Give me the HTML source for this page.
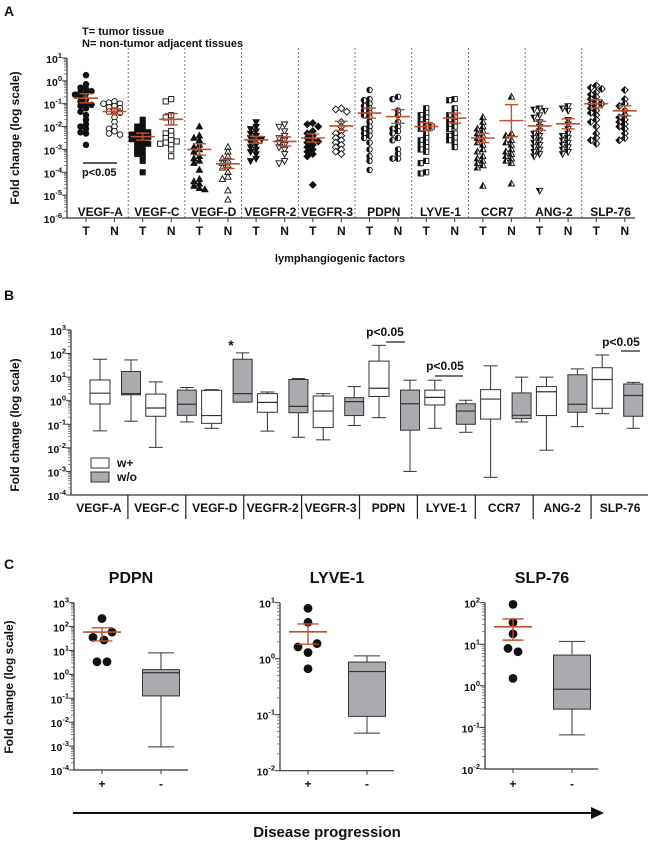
<!DOCTYPE html>
<html><head><meta charset="utf-8"><style>
body{margin:0;background:#fff}
svg{display:block;font-family:"Liberation Sans",Arial,sans-serif}
</style></head><body>
<svg id="fig" width="650" height="843" viewBox="0 0 650 843" xmlns="http://www.w3.org/2000/svg">
<defs><linearGradient id="half" x1="0" x2="1" y1="0" y2="0"><stop offset="0.5" stop-color="#111"/><stop offset="0.5" stop-color="#fff"/></linearGradient></defs>
</svg>
<script>
// ---------- Panel A data (log10 fold change) ----------
const aGroups=['VEGF-A','VEGF-C','VEGF-D','VEGFR-2','VEGFR-3','PDPN','LYVE-1','CCR7','ANG-2','SLP-76'];
const aShapes=['circle','square','up','down','diamond','circle','square','up','down','diamond'];
const vegfA_T=[0.25,-0.15,-0.3,-0.35,-0.45,-0.5,-0.55,-0.6,-0.7,-0.8,-0.9,-1.0,-1.05,-1.1,-1.2,-1.35,-1.5,-1.7,-1.9,-2.0,-2.1,-2.25,-2.3,-2.8];
const vegfA_N=[-0.9,-0.95,-1.0,-1.0,-1.1,-1.15,-1.2,-1.3,-1.35,-1.4,-1.6,-1.8,-2.0,-2.1,-2.2,-2.3,-2.35];
const vegfC_T=[-1.7,-1.9,-2.0,-2.1,-2.2,-2.25,-2.3,-2.35,-2.4,-2.45,-2.5,-2.55,-2.6,-2.7,-2.75,-2.8,-2.9,-3.0,-3.1,-3.2,-3.3,-3.5,-4.0];
const vegfC_N=[-0.8,-0.9,-1.5,-1.6,-1.8,-2.2,-2.3,-2.4,-2.5,-2.6,-2.65,-2.7,-2.75,-2.8,-3.0,-3.3];
const vegfD_T=[-2.0,-2.4,-2.5,-2.6,-2.8,-2.9,-3.0,-3.1,-3.3,-3.4,-3.5,-3.6,-3.9,-4.3,-4.4,-4.5,-4.6,-4.7,-4.75];
const vegfD_N=[-2.9,-3.1,-3.3,-3.4,-3.5,-3.6,-3.7,-3.8,-4.0,-4.2,-4.3,-4.8,-5.2];
const vegfr2_T=[-1.8,-2.0,-2.1,-2.2,-2.3,-2.4,-2.5,-2.55,-2.6,-2.7,-2.8,-2.9,-3.0,-3.1,-3.2,-3.4,-3.5];
const vegfr2_N=[-1.9,-2.0,-2.2,-2.4,-2.5,-2.6,-2.7,-2.8,-2.9,-3.0,-3.2,-3.5,-3.6];
const vegfr3_T=[-1.85,-1.9,-2.0,-2.2,-2.3,-2.4,-2.5,-2.6,-2.65,-2.7,-2.8,-2.9,-3.0,-3.1,-3.2,-3.3,-4.55];
const vegfr3_N=[-1.2,-1.25,-1.35,-1.8,-2.0,-2.2,-2.3,-2.4,-2.5,-2.6,-2.7,-2.8,-2.9,-3.0,-3.1,-3.2];
const pdpn_T=[-0.4,-0.8,-0.85,-1.0,-1.1,-1.2,-1.3,-1.4,-1.5,-1.6,-1.8,-2.0,-2.1,-2.2,-2.3,-2.4,-2.5,-2.7,-3.0,-3.3,-3.5,-3.9];
const pdpn_N=[-0.7,-0.8,-1.3,-1.5,-1.8,-2.0,-2.1,-2.2,-2.3,-2.5,-2.6,-3.0,-3.2,-3.4,-3.4];
const lyve_T=[-1.2,-1.4,-1.5,-1.6,-1.7,-1.8,-1.9,-2.0,-2.0,-2.1,-2.3,-2.5,-2.6,-2.7,-2.8,-2.9,-3.0,-3.1,-3.5,-3.6,-4.0,-4.05];
const lyve_N=[-0.8,-0.85,-1.2,-1.4,-1.5,-1.6,-1.7,-1.8,-1.9,-2.0,-2.1,-2.3,-2.4,-2.5,-2.6,-2.7,-2.9];
const ccr7_T=[-1.6,-1.8,-2.0,-2.1,-2.2,-2.3,-2.4,-2.5,-2.6,-2.7,-2.8,-3.0,-3.1,-3.3,-3.4,-3.5,-3.6,-3.7,-3.8,-4.6];
const ccr7_N=[-0.7,-2.3,-2.4,-2.6,-2.7,-2.8,-3.0,-3.1,-3.2,-3.3,-3.4,-3.5,-3.6,-4.5];
const ang2_T=[-1.2,-1.25,-1.3,-1.5,-1.6,-1.8,-2.0,-2.2,-2.3,-2.4,-2.5,-2.6,-2.7,-2.8,-2.9,-3.0,-3.1,-3.2,-3.3,-4.8];
const ang2_N=[-1.1,-1.2,-1.3,-1.7,-1.9,-2.1,-2.3,-2.4,-2.5,-2.6,-2.7,-2.8,-2.9,-3.0,-3.1,-3.2];
const slp_T=[-0.2,-0.3,-0.35,-0.5,-0.6,-0.7,-0.8,-0.9,-1.0,-1.0,-1.1,-1.2,-1.3,-1.4,-1.5,-1.7,-1.8,-2.0,-2.3,-2.5,-2.6,-2.75];
const slp_N=[-0.4,-0.8,-1.0,-1.1,-1.3,-1.5,-1.6,-1.7,-1.8,-1.9,-2.0,-2.1,-2.3,-2.5,-2.6];
const aMeanT=[-0.76,-2.44,-3.0,-2.58,-2.5,-1.41,-2.0,-2.5,-1.97,-1.0];
const aMeanN=[-1.34,-1.68,-3.63,-2.65,-1.97,-1.56,-1.63,-1.74,-1.88,-1.31];
const aSemT=[0.2,0.15,0.25,0.15,0.18,0.22,0.18,0.2,0.2,0.18];
const aSemN=[0.12,0.25,0.2,0.2,0.2,0.3,0.22,0.7,0.22,0.22];
const aTicks=[1,0,-1,-2,-3,-4,-5,-6];

// ---------- Panel B data (box: lowWhisker,q1,median,q3,highWhisker) ----------
const bGroups=['VEGF-A','VEGF-C','VEGF-D','VEGFR-2','VEGFR-3','PDPN','LYVE-1','CCR7','ANG-2','SLP-76'];
const bWhite=[[-1.28,-0.14,0.32,0.88,1.76],[-1.98,-0.66,-0.31,0.28,0.8],[-1.17,-0.96,-0.63,0.44,0.47],[-1.29,-0.49,-0.07,0.3,0.37],[-1.66,-1.14,-0.44,0.2,0.3],[-0.72,0.18,0.53,1.68,2.35],[-1.17,-0.18,0.14,0.45,0.87],[-3.25,-0.78,0.07,0.47,1.48],[-2.1,-0.63,0.38,0.6,1.0],[-0.55,-0.32,0.9,1.4,1.94]];
const bGray=[[-0.87,0.25,0.3,1.24,1.73],[-0.9,-0.62,-0.15,0.45,0.56],[-0.06,-0.06,0.3,1.76,2.03],[-1.55,-0.51,-0.24,0.9,0.94],[-1.05,-0.63,-0.04,0.13,0.6],[-3.0,-1.25,-0.13,0.45,0.87],[-1.34,-1.0,-0.44,-0.13,0.02],[-0.9,-0.76,-0.62,0.33,1.0],[-1.1,-0.49,-0.15,1.1,1.35],[-1.17,-0.66,0.22,0.71,0.78]];
const bTicks=[3,2,1,0,-1,-2,-3,-4];

// ---------- Panel C data ----------
const cTitles=['PDPN','LYVE-1','SLP-76'];
const cPdpnDots=[2.34,1.55,1.44,1.77,0.53,0.53];
const cLyveDots=[0.9,0.65,0.21,0.27,0.11,-0.18];
const cSlpDots=[1.96,1.52,1.25,0.9,0.82,0.18];
const cMeans=[1.77,0.48,1.42];
const cSemHi=[1.95,0.62,1.61];
const cSemLo=[1.4,0.26,1.1];
const cBoxes=[[-3.03,-0.9,0.07,0.2,0.9],[-1.33,-1.03,-0.23,-0.06,0.05],[-1.18,-0.56,-0.08,0.74,1.07]];
const cRanges=[[3,-4],[1,-2],[2,-2]];

// ---------- helpers ----------
const NS='http://www.w3.org/2000/svg';
const svg=document.getElementById('fig');
function el(tag,attrs,parent){const e=document.createElementNS(NS,tag);for(const k in attrs)e.setAttribute(k,attrs[k]);(parent||svg).appendChild(e);return e;}
function txt(s,x,y,size,anchor,weight,parent){const t=el('text',{x:x,y:y,'font-size':size,'text-anchor':anchor||'start','font-weight':weight||'bold',fill:'#111'},parent);t.textContent=s;return t;}
function pow10(e,x,y,parent){const t=el('text',{x:x,y:y,'font-size':10.5,'text-anchor':'end','font-weight':'bold',fill:'#111'},parent);
 const a=el('tspan',{},t);a.textContent='10';const b=el('tspan',{dy:-5,'font-size':7.5},t);b.textContent=String(e);
 return t;}
const RED='#c0502e';
function logAxis(g,x,yTop,yBot,hi,lo,minor){
 el('line',{x1:x,y1:yTop,x2:x,y2:yBot,stroke:'#333','stroke-width':1.2},g);
 const dec=(yBot-yTop)/(hi-lo);
 for(let e=lo;e<=hi;e++){const y=yBot-(e-lo)*dec;el('line',{x1:x-5,y1:y,x2:x,y2:y,stroke:'#333','stroke-width':1},g);
  if(minor&&e<hi){for(let k=2;k<10;k++){const yy=y-Math.log10(k)*dec;el('line',{x1:x-3,y1:yy,x2:x,y2:yy,stroke:'#555','stroke-width':0.7},g);}}
  pow10(e,x-5,y+5,g);}
}
function marker(shape,cx,cy,fill,g){
 const s=2.6,a={fill:fill,stroke:'#111','stroke-width':0.9};let m;
 if(shape==='circle')m=el('circle',Object.assign({cx:cx,cy:cy,r:s+0.2},a),g);
 else if(shape==='square')m=el('rect',Object.assign({x:cx-s,y:cy-s,width:2*s,height:2*s},a),g);
 else if(shape==='up')m=el('polygon',Object.assign({points:`${cx},${cy-s-0.8} ${cx+s+0.5},${cy+s-0.3} ${cx-s-0.5},${cy+s-0.3}`},a),g);
 else if(shape==='down')m=el('polygon',Object.assign({points:`${cx},${cy+s+0.8} ${cx+s+0.5},${cy-s+0.3} ${cx-s-0.5},${cy-s+0.3}`},a),g);
 else m=el('polygon',Object.assign({points:`${cx},${cy-s-0.8} ${cx+s+0.8},${cy} ${cx},${cy+s+0.8} ${cx-s-0.8},${cy}`},a),g);
 return m;
}
function swarm(vals,yf){const sorted=vals.slice().sort((a,b)=>b-a);const placed=[];const cand=[0,-5.5,5.5,-11,11,-16,16];
 return sorted.map(v=>{const y=yf(v);let dx=0;for(const c of cand){if(!placed.some(p=>Math.abs(p.y-y)<4.5&&Math.abs(p.dx-c)<5)){dx=c;break;}}placed.push({y:y,dx:dx});return {v:v,y:y,dx:dx};});}
function meanSem(g,cx,ym,yh,yl,hw){
 el('line',{x1:cx-hw,y1:ym,x2:cx+hw,y2:ym,stroke:RED,'stroke-width':1.6},g);
 el('line',{x1:cx,y1:yh,x2:cx,y2:yl,stroke:RED,'stroke-width':1.4},g);
 el('line',{x1:cx-hw*0.55,y1:yh,x2:cx+hw*0.55,y2:yh,stroke:RED,'stroke-width':1.4},g);
 el('line',{x1:cx-hw*0.55,y1:yl,x2:cx+hw*0.55,y2:yl,stroke:RED,'stroke-width':1.4},g);
}
function boxplot(g,cx,w,yf,b,fill){
 const [lo,q1,md,q3,hi]=b.map(yf);
 el('line',{x1:cx,y1:hi,x2:cx,y2:q3,stroke:'#333','stroke-width':1},g);
 el('line',{x1:cx,y1:q1,x2:cx,y2:lo,stroke:'#333','stroke-width':1},g);
 el('line',{x1:cx-w*0.35,y1:hi,x2:cx+w*0.35,y2:hi,stroke:'#333','stroke-width':1},g);
 el('line',{x1:cx-w*0.35,y1:lo,x2:cx+w*0.35,y2:lo,stroke:'#333','stroke-width':1},g);
 el('rect',{x:cx-w/2,y:q3,width:w,height:Math.max(q1-q3,0.5),fill:fill,stroke:'#333','stroke-width':1},g);
 el('line',{x1:cx-w/2,y1:md,x2:cx+w/2,y2:md,stroke:'#333','stroke-width':1.2},g);
}

// ================= PANEL A =================
const gA=el('g',{});

txt('A',4,16,14,'start','bold',gA);
txt('T= tumor tissue',82,35,11,'start','bold',gA);
txt('N= non-tumor adjacent tissues',82,47,11,'start','bold',gA);
const yA=v=>58+(1-v)*22.86;
const xAT=i=>86+i*56.7, xAN=i=>xAT(i)+28.5;
logAxis(gA,67,58,218,1,-6,true);
el('line',{x1:67,y1:218,x2:635,y2:218,stroke:'#333','stroke-width':1.2},gA);
const yt=el('text',{x:0,y:0,'font-size':12,'font-weight':'bold','text-anchor':'middle',fill:'#111',transform:'translate(19,138) rotate(-90)'},gA);
yt.textContent='Fold change (log scale)';
const aT=[vegfA_T,vegfC_T,vegfD_T,vegfr2_T,vegfr3_T,pdpn_T,lyve_T,ccr7_T,ang2_T,slp_T];
const aN=[vegfA_N,vegfC_N,vegfD_N,vegfr2_N,vegfr3_N,pdpn_N,lyve_N,ccr7_N,ang2_N,slp_N];
aGroups.forEach((name,i)=>{
 if(i>0){const sx=xAT(i)-14.5;const d=el('line',{x1:sx,y1:48,x2:sx,y2:218,stroke:'#555','stroke-width':0.8,'stroke-dasharray':'2,2'},gA);
  }
 const lab=txt(name,(xAT(i)+xAN(i))/2,216,12,'middle','bold',gA);
 [[xAT(i),'T'],[xAN(i),'N']].forEach(([x,l])=>{el('line',{x1:x,y1:218,x2:x,y2:222,stroke:'#333'},gA);const t=txt(l,x,235,12,'middle','bold',gA);});
 const fT=i<5?'#111':'url(#half)', fN=i<5?'#fff':'url(#half)';
 swarm(aT[i],yA).forEach(p=>{const m=marker(aShapes[i],xAT(i)+p.dx,p.y,fT,gA);});
 swarm(aN[i],yA).forEach(p=>{const m=marker(aShapes[i],xAN(i)+p.dx,p.y,fN,gA);});
 meanSem(gA,xAT(i),yA(aMeanT[i]),yA(aMeanT[i]+aSemT[i]),yA(aMeanT[i]-aSemT[i]),12);
 meanSem(gA,xAN(i),yA(aMeanN[i]),yA(aMeanN[i]+aSemN[i]),yA(aMeanN[i]-aSemN[i]),12);
});
el('line',{x1:83,y1:163,x2:117,y2:163,stroke:'#222','stroke-width':1.5},gA);
txt('p<0.05',82,176,11,'start','bold',gA);
txt('lymphangiogenic factors',340,262,11,'middle','bold',gA);

// ================= PANEL B =================
const gB=el('g',{});

txt('B',4,300,14,'start','bold',gB);
const yB=v=>330+(3-v)*23.57;
logAxis(gB,71,330,495,3,-4,true);
el('line',{x1:71,y1:495,x2:648,y2:495,stroke:'#333','stroke-width':1.2},gB);
const ytb=el('text',{x:0,y:0,'font-size':12,'font-weight':'bold','text-anchor':'middle',fill:'#111',transform:'translate(19,425) rotate(-90)'},gB);
ytb.textContent='Fold change (log scale)';
const xW=i=>100+i*55.8, xG=i=>xW(i)+31;
bGroups.forEach((name,i)=>{
 const sep=70+(i+1)*57.9;
 if(i<9){const s=el('line',{x1:sep,y1:495,x2:sep,y2:519,stroke:'#222','stroke-width':1.2},gB);}
 const lab=txt(name,70+(i+0.5)*57.9,512,12,'middle','bold',gB);
 const gw=el('g',{},gB);boxplot(gw,xW(i),20,yB,bWhite[i],'#fff');
 const gg=el('g',{},gB);boxplot(gg,xG(i),19,yB,bGray[i],'#a9abae');
});
txt('p<0.05',385,336,12,'middle','bold',gB);
el('line',{x1:386,y1:342,x2:405,y2:342,stroke:'#222','stroke-width':1.2},gB);
txt('p<0.05',445,370,12,'middle','bold',gB);
el('line',{x1:435,y1:376,x2:463,y2:376,stroke:'#222','stroke-width':1.2},gB);
txt('p<0.05',621,346,12,'middle','bold',gB);
el('line',{x1:621,y1:351,x2:640,y2:351,stroke:'#222','stroke-width':1.2},gB);
txt('*',231,350,14,'middle','bold',gB);
el('rect',{x:91,y:458,width:18,height:10,fill:'#fff',stroke:'#333'},gB);
el('rect',{x:91,y:472,width:18,height:10,fill:'#a9abae',stroke:'#333'},gB);
txt('w+',117,467,12,'start','bold',gB);
txt('w/o',117,481,12,'start','bold',gB);

// ================= PANEL C =================
const gC=el('g',{});

txt('C',4,569,14,'start','bold',gC);
const ytc=el('text',{x:0,y:0,'font-size':12,'font-weight':'bold','text-anchor':'middle',fill:'#111',transform:'translate(13,687) rotate(-90)'},gC);
ytc.textContent='Fold change (log scale)';
const cAxisX=[74,280,485], cAxisEnd=[188,394,598], cBottom=[770,770.7,769];
const cDots=[cPdpnDots,cLyveDots,cSlpDots];
const cDotDx=[[0,-9,2,10,5,-5],[0,0,-10,9,0,0],[0,0,0,-5,5,0]];
cTitles.forEach((title,k)=>{
 const g=el('g',{},gC);
 const [hi,lo]=cRanges[k];const yTop=602.7,yBot=cBottom[k];
 const yf=v=>yBot-(v-lo)*(yBot-yTop)/(hi-lo);
 logAxis(g,cAxisX[k],yTop,yBot,hi,lo,true);
 el('line',{x1:cAxisX[k],y1:yBot,x2:cAxisEnd[k],y2:yBot,stroke:'#333','stroke-width':1.2},g);
 const xp=cAxisX[k]+28, xm=cAxisX[k]+87;
 el('line',{x1:xp,y1:yBot,x2:xp,y2:yBot+4,stroke:'#333'},g);el('line',{x1:xm,y1:yBot,x2:xm,y2:yBot+4,stroke:'#333'},g);
 txt('+',xp,788,12,'middle','bold',g);
 txt('-',xm,788,12,'middle','bold',g);
 txt(title,cAxisX[k]+57,583,16,'middle','bold',g);
 cDots[k].forEach((v,j)=>{const c=el('circle',{cx:xp+cDotDx[k][j],cy:yf(v),r:4.4,fill:'#111'},g);});
 meanSem(g,xp,yf(cMeans[k]),yf(cSemHi[k]),yf(cSemLo[k]),19);
 const bg=el('g',{},g);
 boxplot(bg,xm,37,yf,cBoxes[k],'#a9abae');
});
const ar=el('g',{},gC);
el('line',{x1:73,y1:813,x2:596,y2:813,stroke:'#111','stroke-width':2},ar);
el('polygon',{points:'604,813 591,807 591,819',fill:'#111'},ar);
txt('Disease progression',327,837,15,'middle','bold',gC);
</script>
</body></html>
